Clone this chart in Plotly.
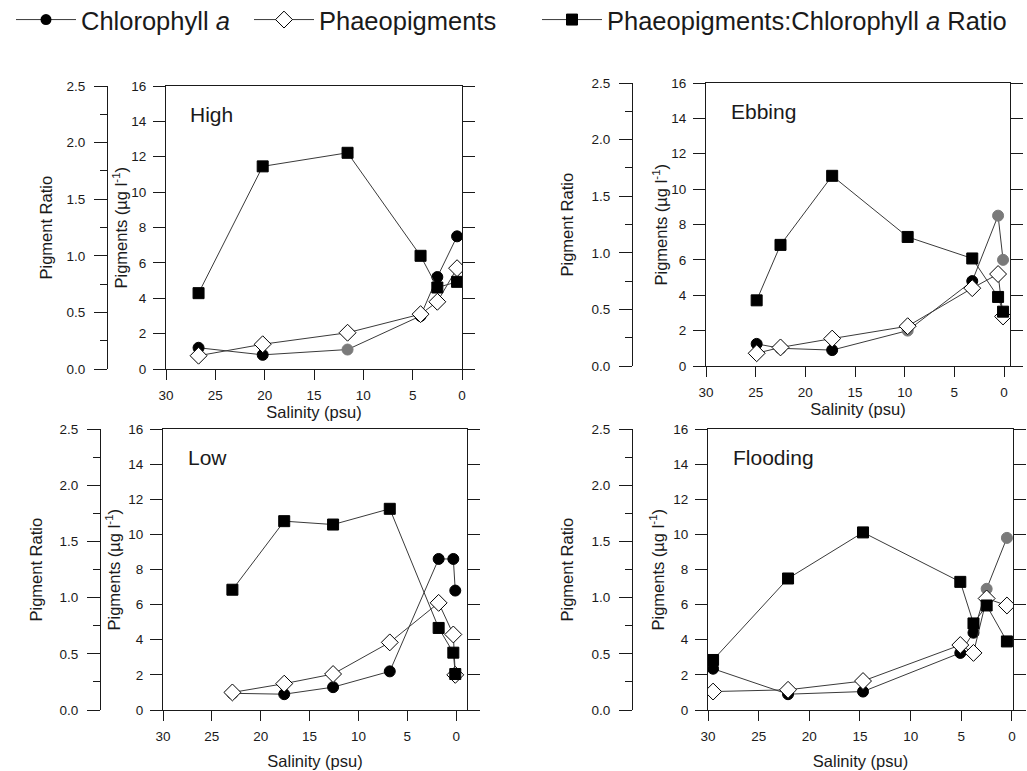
import plotly.graph_objects as go

W, H = 1027, 771

# ---------------- data ----------------
panel_names = ["High", "Ebbing", "Low", "Flooding"]

high_sal = [26.7, 20.2, 11.6, 4.2, 2.5, 0.5]
high_chl = [1.2, 0.8, 1.1, 3.0, 5.2, 7.5]
high_pha = [0.75, 1.4, 2.05, 3.1, 3.8, 5.7]
high_ratio = [0.67, 1.79, 1.91, 1.0, 0.72, 0.77]

ebb_sal = [24.9, 22.5, 17.3, 9.7, 3.2, 0.6, 0.1]
ebb_chl = [1.25, 1.0, 0.9, 2.0, 4.8, 8.5, 6.0]
ebb_pha = [0.72, 1.05, 1.55, 2.25, 4.4, 5.2, 2.8]
ebb_ratio = [0.58, 1.07, 1.68, 1.14, 0.95, 0.61, 0.48]

low_sal = [22.9, 17.6, 12.6, 6.8, 1.8, 0.3, 0.1]
low_chl = [0.95, 0.9, 1.3, 2.2, 8.6, 8.6, 6.8]
low_pha = [1.0, 1.5, 2.05, 3.85, 6.1, 4.3, 2.0]
low_ratio = [1.07, 1.68, 1.65, 1.79, 0.73, 0.51, 0.32]

flo_sal = [29.5, 22.1, 14.7, 5.1, 3.8, 2.5, 0.5]
flo_chl = [2.35, 0.9, 1.05, 3.25, 4.4, 6.9, 9.8]
flo_pha = [1.05, 1.15, 1.65, 3.7, 3.25, 6.35, 5.95]
flo_ratio = [0.445, 1.17, 1.58, 1.14, 0.77, 0.93, 0.61]

panels = [
    (high_sal, high_chl, high_pha, high_ratio),
    (ebb_sal, ebb_chl, ebb_pha, ebb_ratio),
    (low_sal, low_chl, low_pha, low_ratio),
    (flo_sal, flo_chl, flo_pha, flo_ratio),
]

series_names = ["Chlorophyll <i>a</i>", "Phaeopigments",
                "Phaeopigments:Chlorophyll <i>a</i> Ratio"]

# ---------------- styling ----------------
K, G = "black", "#7a7a7a"   # a few chlorophyll markers print grey in the original
chl_colors = [
    [K, K, G, K, K, K],
    [K, K, K, G, K, G, G],
    [K, K, K, K, K, K, K],
    [K, K, K, K, K, G, G],
]

geo = [
    dict(l=166, r=462, t=86, b=369, rx=107, xr=[30, 0], pt=120, rt=45, st=4),
    dict(l=706, r=1010, t=83, b=366, rx=632, xr=[30, -0.6], pt=660, rt=566, st=4),
    dict(l=163, r=467, t=429, b=710, rx=100, xr=[30, -1.1], pt=113, rt=35, st=12),
    dict(l=708, r=1013, t=429, b=710, rx=632, xr=[30, -0.1], pt=657, rt=566, st=12),
]
legend_left_px = [23, 261, 549]

FONT = "Liberation Sans, Arial, sans-serif"
INK = "#1a1a1a"
LINE = "#3a3a3a"

fig = go.Figure()
layout = dict(
    width=W, height=H,
    margin=dict(l=0, r=0, t=0, b=0, autoexpand=False),
    paper_bgcolor="white", plot_bgcolor="white",
    font=dict(family=FONT, color=INK, size=13),
    showlegend=True,
)
legend_ids = ["legend", "legend2", "legend3"]
for k, lid in enumerate(legend_ids):
    layout[lid] = dict(orientation="h", x=(legend_left_px[k] - 12) / W, xanchor="left",
                       y=1 - 20 / H, yanchor="middle",
                       font=dict(size=25.5, family=FONT, color=INK), itemwidth=60,
                       bgcolor="rgba(0,0,0,0)")
annotations = []

for i, (sal, chl, pha, rat) in enumerate(panels):
    g = geo[i]
    n = i + 1
    xname = "x" if n == 1 else f"x{n}"
    yp = 2 * n - 1
    yr = 2 * n
    ypname = "y" if yp == 1 else f"y{yp}"
    yrname = f"y{yr}"
    xd = [g["l"] / W, g["r"] / W]
    yd = [1 - g["b"] / H, 1 - g["t"] / H]

    show = (i == 0)
    fig.add_trace(go.Scatter(
        x=sal, y=chl, xaxis=xname, yaxis=ypname, mode="lines+markers",
        name=series_names[0], legendgroup="chl", showlegend=False,
        line=dict(color=LINE, width=1),
        marker=dict(symbol="circle", size=11, color=chl_colors[i], line=dict(color=chl_colors[i], width=1)),
    ))
    if show:
        # legend entry (black marker) for chlorophyll
        fig.add_trace(go.Scatter(
            x=[None], y=[None], xaxis=xname, yaxis=ypname, mode="lines+markers",
            name=series_names[0], legendgroup="chl", showlegend=True, legend="legend",
            line=dict(color=LINE, width=1),
            marker=dict(symbol="circle", size=11, color="black"),
        ))
    fig.add_trace(go.Scatter(
        x=sal, y=pha, xaxis=xname, yaxis=ypname, mode="lines+markers",
        name=series_names[1], legendgroup="pha", showlegend=show, legend="legend2",
        line=dict(color=LINE, width=1),
        marker=dict(symbol="diamond", size=13, color="white", line=dict(color="black", width=1)),
    ))
    fig.add_trace(go.Scatter(
        x=sal, y=rat, xaxis=xname, yaxis=yrname, mode="lines+markers",
        name=series_names[2], legendgroup="rat", showlegend=show, legend="legend3",
        line=dict(color=LINE, width=1),
        marker=dict(symbol="square", size=11, color="black", line=dict(color="black", width=1)),
    ))

    layout["xaxis" if n == 1 else f"xaxis{n}"] = dict(
        domain=xd, range=g["xr"], anchor=ypname,
        tickmode="linear", tick0=0, dtick=5,
        ticks="outside", ticklen=10, tickwidth=1, tickcolor=INK,
        showline=True, linecolor=INK, linewidth=1, mirror=True,
        showgrid=False, zeroline=False, ticklabelstandoff=4,
        tickfont=dict(size=13.5),
        title=dict(text="Salinity (psu)", font=dict(size=16.5), standoff=g["st"]),
    )
    layout["yaxis" if yp == 1 else f"yaxis{yp}"] = dict(
        domain=yd, range=[0, 16], anchor=xname,
        tickmode="linear", tick0=0, dtick=2,
        ticks="outside", ticklen=12, tickwidth=1, tickcolor=INK,
        showline=True, linecolor=INK, linewidth=1, mirror="ticks",
        showgrid=False, zeroline=False, ticklabelstandoff=4,
        tickfont=dict(size=13.5),
    )
    layout[f"yaxis{yr}"] = dict(
        overlaying=ypname, anchor="free", position=g["rx"] / W, side="left",
        range=[0, 2.5], tickmode="linear", tick0=0, dtick=0.5, tickformat=".1f",
        ticks="outside", ticklen=13, tickwidth=1, tickcolor=INK,
        minor=dict(dtick=0.25, ticks="outside", ticklen=7, tickcolor=INK),
        showline=True, linecolor=INK, linewidth=1,
        showgrid=False, zeroline=False, ticklabelstandoff=6,
        tickfont=dict(size=13.5),
    )

    ymid = 1 - ((g["t"] + g["b"]) / 2) / H
    annotations.append(dict(
        text="Pigments (µg l<sup>-1</sup>)", xref="paper", yref="paper",
        x=g["pt"] / W, y=ymid, xanchor="center", yanchor="middle",
        textangle=-90, showarrow=False, font=dict(size=16.5)))
    annotations.append(dict(
        text="Pigment Ratio", xref="paper", yref="paper",
        x=g["rt"] / W, y=ymid, xanchor="center", yanchor="middle",
        textangle=-90, showarrow=False, font=dict(size=16.5)))
    annotations.append(dict(
        text=panel_names[i], xref=f"{xname} domain", yref=f"{ypname} domain",
        x=0.075, y=0.9, xanchor="left", yanchor="middle",
        showarrow=False, font=dict(size=21)))

layout["annotations"] = annotations
fig.update_layout(**layout)
fig.write_html("out.html", config={"displayModeBar": False},
               post_script="document.body.style.margin='0px';document.body.style.overflow='hidden';")
